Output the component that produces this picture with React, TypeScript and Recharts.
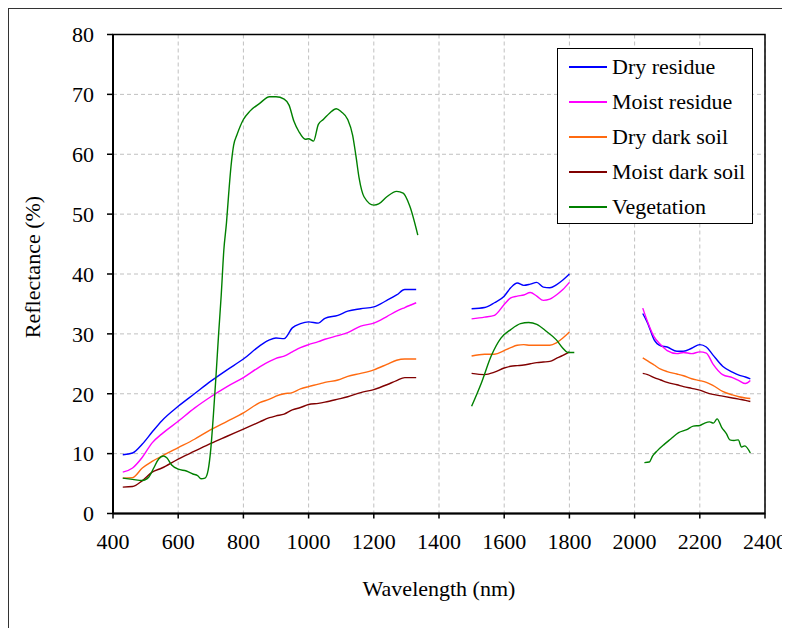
import React from 'react'
import {
	CartesianGrid,
	Legend,
	Line,
	LineChart,
	ReferenceArea,
	XAxis,
	YAxis,
} from 'recharts'

// wavelengths (nm) for the residue / soil spectra, one array per measured band
const wlA = [
	430, 460, 490, 520, 550, 600, 650, 700, 750, 800, 850, 880, 900, 925, 950,
	975, 1000, 1030, 1050, 1090, 1120, 1160, 1200, 1240, 1270, 1295, 1330,
]
const wlB = [
	1500, 1540, 1570, 1600, 1620, 1640, 1660, 1680, 1700, 1720, 1740, 1760, 1780,
	1800,
]
const wlC = [
	2025, 2040, 2060, 2080, 2100, 2130, 2150, 2175, 2200, 2220, 2240, 2270, 2300,
	2320, 2340, 2355,
]

const dryResidueA = [
	9.8, 10.1, 11.6, 13.6, 15.5, 17.9, 20.0, 22.1, 24.0, 25.8, 28.0, 29.0, 29.3,
	29.2, 31.0, 31.7, 32.0, 31.8, 32.6, 33.1, 33.8, 34.2, 34.5, 35.6, 36.5, 37.4,
	37.4,
]
const dryResidueB = [
	34.2, 34.4, 35.2, 36.3, 37.7, 38.5, 38.1, 38.3, 38.6, 37.8, 37.7, 38.2, 39.0,
	40.0,
]
const dryResidueC = [
	33.4, 31.8, 29.0, 28.0, 27.8, 27.1, 27.1, 27.6, 28.2, 27.8, 26.5, 24.6, 23.6,
	23.1, 22.8, 22.5,
]

const moistResidueA = [
	6.9, 7.6, 9.4, 11.8, 13.3, 15.4, 17.6, 19.5, 21.2, 22.7, 24.5, 25.4, 25.9,
	26.3, 27.0, 27.7, 28.2, 28.7, 29.1, 29.7, 30.2, 31.3, 31.8, 32.9, 33.8, 34.4,
	35.2,
]
const moistResidueB = [
	32.5, 32.8, 33.1, 34.9, 36.0, 36.3, 36.5, 36.9, 36.3, 35.6, 35.8, 36.5, 37.4,
	38.6,
]
const moistResidueC = [
	34.3, 32.0, 29.5, 28.2, 27.2, 26.7, 26.9, 26.7, 27.0, 26.8, 25.0, 23.2, 22.7,
	22.2, 21.7, 22.2,
]

const dryDarkSoilA = [
	5.9, 6.0, 7.6, 8.7, 9.6, 11.0, 12.4, 14.0, 15.4, 16.8, 18.5, 19.1, 19.6, 20.0,
	20.2, 20.8, 21.2, 21.6, 21.9, 22.3, 22.9, 23.4, 24.0, 24.9, 25.6, 25.8, 25.8,
]
const dryDarkSoilB = [
	26.3, 26.6, 26.6, 27.2, 27.7, 28.1, 28.2, 28.1, 28.1, 28.1, 28.1, 28.5, 29.3,
	30.3,
]
const dryDarkSoilC = [
	26.0, 25.5, 24.8, 24.1, 23.7, 23.3, 23.0, 22.5, 22.2, 21.9, 21.4, 20.4, 19.8,
	19.5, 19.3, 19.2,
]

const moistDarkSoilA = [
	4.4, 4.5, 5.5, 6.9, 7.6, 9.1, 10.4, 11.7, 12.9, 14.1, 15.3, 16.0, 16.3, 16.6,
	17.3, 17.7, 18.2, 18.4, 18.6, 19.1, 19.5, 20.2, 20.7, 21.5, 22.2, 22.7, 22.7,
]
const moistDarkSoilB = [
	23.4, 23.2, 23.6, 24.3, 24.6, 24.7, 24.8, 25.0, 25.2, 25.3, 25.4, 25.9, 26.4,
	27.0,
]
const moistDarkSoilC = [
	23.4, 23.2, 22.7, 22.3, 21.9, 21.5, 21.2, 20.9, 20.6, 20.2, 19.9, 19.6, 19.3,
	19.1, 18.9, 18.7,
]

// vegetation is sampled more densely (red edge, water bands)
const wlVegA = [
	430, 460, 490, 510, 525, 540, 555, 565, 580, 600, 625, 645, 660, 670, 682,
	692, 700, 708, 716, 724, 732, 740, 748, 755, 762, 770, 780, 800, 820, 850,
	880, 900, 925, 940, 955, 970, 990, 1000, 1015, 1030, 1045, 1065, 1085, 1100,
	1120, 1135, 1145, 1155, 1170, 1200, 1215, 1240, 1270, 1290, 1310, 1335,
]
const vegetationA = [
	5.9, 5.7, 5.5, 6.1, 7.6, 9.1, 9.6, 9.3, 8.1, 7.4, 7.1, 6.6, 6.3, 5.8, 5.9,
	7.3, 10.8, 16.5, 23.0, 30.0, 36.5, 44.0, 48.5, 53.5, 58.0, 61.5, 63.2, 65.8,
	67.2, 68.5, 69.6, 69.6, 69.2, 68.2, 65.5, 63.8, 62.5, 62.6, 62.2, 65.0, 65.8,
	66.9, 67.6, 67.1, 65.8, 63.2, 59.8, 56.0, 52.9, 51.5, 51.7, 52.9, 53.8, 53.5,
	51.4, 46.5,
]
const wlVegB = [
	1500, 1530, 1560, 1590, 1620, 1650, 1675, 1700, 1730, 1760, 1780, 1795, 1815,
]
const vegetationB = [
	17.9, 21.8, 26.3, 29.3, 30.7, 31.7, 31.9, 31.6, 30.4, 29.0, 27.6, 26.9, 26.9,
]
const wlVegC = [
	2030, 2045, 2055, 2070, 2090, 2110, 2135, 2160, 2180, 2200, 2215, 2230, 2242,
	2253, 2267, 2282, 2292, 2305, 2318, 2328, 2338, 2355,
]
const vegetationC = [
	8.5, 8.6, 9.6, 10.5, 11.5, 12.4, 13.5, 14.0, 14.6, 14.7, 15.1, 15.3, 15.1,
	15.8, 14.4, 13.3, 12.3, 12.2, 12.3, 11.1, 11.3, 10.1,
]

const xTicks = [400, 600, 800, 1000, 1200, 1400, 1600, 1800, 2000, 2200, 2400]
const yTicks = [0, 10, 20, 30, 40, 50, 60, 70, 80]

type Pt = { wl: number; v: number | null }

// join the bands, with a null between them so the line breaks
function bands(parts: [number[], number[]][]): Pt[] {
	const out: Pt[] = []
	parts.forEach(([wl, vals], i) => {
		if (i > 0) out.push({ wl: (out[out.length - 1].wl + wl[0]) / 2, v: null })
		wl.forEach((w, j) => out.push({ wl: w, v: vals[j] }))
	})
	return out
}

const series = [
	{
		name: 'Dry residue',
		color: '#0000ff',
		data: bands([
			[wlA, dryResidueA],
			[wlB, dryResidueB],
			[wlC, dryResidueC],
		]),
	},
	{
		name: 'Moist residue',
		color: '#ff00ff',
		data: bands([
			[wlA, moistResidueA],
			[wlB, moistResidueB],
			[wlC, moistResidueC],
		]),
	},
	{
		name: 'Dry dark soil',
		color: '#ff6a10',
		data: bands([
			[wlA, dryDarkSoilA],
			[wlB, dryDarkSoilB],
			[wlC, dryDarkSoilC],
		]),
	},
	{
		name: 'Moist dark soil',
		color: '#800000',
		data: bands([
			[wlA, moistDarkSoilA],
			[wlB, moistDarkSoilB],
			[wlC, moistDarkSoilC],
		]),
	},
	{
		name: 'Vegetation',
		color: '#008000',
		data: bands([
			[wlVegA, vegetationA],
			[wlVegB, vegetationB],
			[wlVegC, vegetationC],
		]),
	},
]

const font = '"Liberation Serif", "Times New Roman", serif'

function LegendBox() {
	return (
		<div
			style={{
				boxSizing: 'border-box',
				width: 196,
				height: 176,
				border: '1.5px solid #000',
				background: '#fff',
				paddingTop: 1,
				fontFamily: font,
				fontSize: 22,
				color: '#000',
			}}
		>
			{series.map((s) => (
				<div
					key={s.name}
					style={{ height: 35, display: 'flex', alignItems: 'center' }}
				>
					<div
						style={{
							marginLeft: 11,
							width: 38,
							height: 1.5,
							background: s.color,
						}}
					/>
					<span style={{ marginLeft: 5, whiteSpace: 'nowrap' }}>{s.name}</span>
				</div>
			))}
		</div>
	)
}

export default function App() {
	const tick = { fontSize: 22, fontFamily: font, fill: '#000' }
	return (
		<div
			style={{
				width: 781,
				height: 619,
				borderTop: '1px solid #333',
				borderLeft: '1px solid #333',
				position: 'relative',
				background: '#fff',
				fontFamily: font,
			}}
		>
			<LineChart
				width={781}
				height={619}
				margin={{ top: 25.5, right: 25, left: 44, bottom: 54.5 }}
				style={{ fontFamily: font }}
			>
				<CartesianGrid stroke='#c0c0c0' strokeDasharray='4 3' />
				<ReferenceArea
					x1={400}
					x2={2400}
					y1={0}
					y2={80}
					fill='none'
					stroke='#000'
					strokeWidth={1.5}
					fillOpacity={0}
				/>
				<XAxis
					type='number'
					dataKey='wl'
					domain={[400, 2400]}
					ticks={xTicks}
					allowDataOverflow
					height={60}
					tick={tick}
					tickSize={5}
					tickMargin={15}
					stroke='#000'
					strokeWidth={2}
					tickLine={{ stroke: '#000', strokeWidth: 1.5 }}
					interval={0}
				/>
				<YAxis
					type='number'
					domain={[0, 80]}
					ticks={yTicks}
					width={60}
					tick={tick}
					tickSize={6}
					tickMargin={13}
					stroke='#000'
					strokeWidth={2}
					tickLine={{ stroke: '#000', strokeWidth: 1.5 }}
					interval={0}
				/>
				{series.map((s) => (
					<Line
						key={s.name}
						data={s.data}
						dataKey='v'
						name={s.name}
						type='monotone'
						stroke={s.color}
						strokeWidth={1.4}
						dot={false}
						activeDot={false}
						connectNulls={false}
						isAnimationActive={false}
					/>
				))}
				<Legend
					layout='vertical'
					align='center'
					verticalAlign='middle'
					wrapperStyle={{ top: 38.7, left: 548, width: 196, height: 176 }}
					content={() => <LegendBox />}
				/>
			</LineChart>
			<div
				style={{
					position: 'absolute',
					left: 24,
					top: 258,
					transform: 'translate(-50%, -50%) rotate(-90deg)',
					fontSize: 22,
					whiteSpace: 'nowrap',
					color: '#000',
				}}
			>
				Reflectance (%)
			</div>
			<div
				style={{
					position: 'absolute',
					left: 430,
					top: 567,
					transform: 'translateX(-50%)',
					fontSize: 22,
					whiteSpace: 'nowrap',
					color: '#000',
				}}
			>
				Wavelength (nm)
			</div>
		</div>
	)
}
